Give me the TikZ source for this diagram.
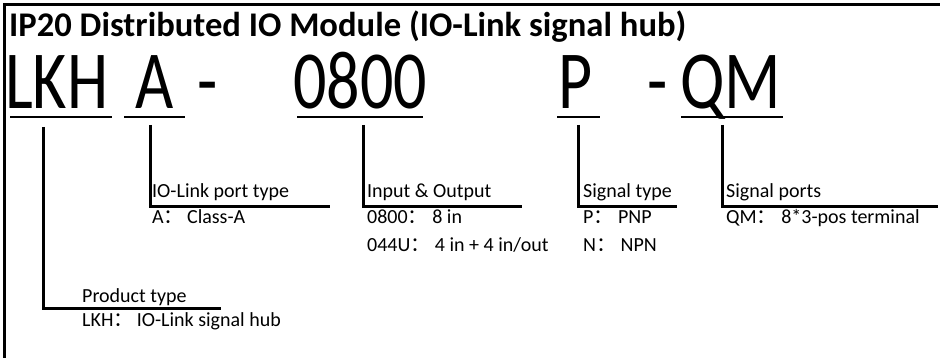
\documentclass[tikz,border=0pt]{standalone}
\usepackage{graphicx}
\usepackage{fontspec}
\setmainfont{Carlito}
\newfontfamily\cjk{Noto Sans CJK SC}
\newcommand{\fwc}{{\cjk ：}}
\newcommand{\tallbox}[1]{\scalebox{1}[1.25]{#1}}
\begin{document}
\begin{tikzpicture}[x=1pt,y=-1pt,
  big/.style={font=\fontsize{66}{66}\selectfont, anchor=base west, inner sep=0pt},
  lbl/.style={font=\fontsize{20}{20}\selectfont, anchor=base west, inner sep=0pt},
  ttl/.style={font=\bfseries\fontsize{34.6}{35}\selectfont, anchor=base west, inner sep=0pt},
  bar/.style={line width=2pt},
  lead/.style={line width=3pt},
  frame/.style={line width=3pt}]
\useasboundingbox (0,0) rectangle (940,358);
% frame
\coordinate (fbl) at (4.5,358);
\coordinate (ftl) at (4.5,5);
\coordinate (ftr) at (940,5);
\draw[frame] (fbl) -- (ftl) -- (ftr);
% title
\node[ttl] (title) at (9,37) {IP20 Distributed IO Module (IO-Link signal hub)};
% big code
\node[big] (lkh) at (5,109) {\tallbox{LKH}};
\node[big] (a) at (135,109) {\tallbox{A}};
\node[big] (d1) at (197,109) {\tallbox{-}};
\node[big] (n0800) at (293,109) {\tallbox{0800}};
\node[big] (p) at (558,109) {\tallbox{P}};
\node[big] (d2) at (647,109) {\tallbox{-}};
\node[big] (qm) at (680,109) {\tallbox{QM}};
% underlines
\coordinate (u1a) at (10,117);  \coordinate (u1b) at (112,117);
\coordinate (u2a) at (124,117); \coordinate (u2b) at (185,117);
\coordinate (u3a) at (297,117); \coordinate (u3b) at (423,117);
\coordinate (u4a) at (557,117); \coordinate (u4b) at (600,117);
\coordinate (u5a) at (681,117); \coordinate (u5b) at (783,117);
\draw[bar] (u1a) -- (u1b);
\draw[bar] (u2a) -- (u2b);
\draw[bar] (u3a) -- (u3b);
\draw[bar] (u4a) -- (u4b);
\draw[bar] (u5a) -- (u5b);
% leaders
\coordinate (l1s) at (43,127);  \coordinate (l1c) at (43,308);  \coordinate (l1e) at (221,308);
\coordinate (l2s) at (150,125); \coordinate (l2c) at (150,207); \coordinate (l2e) at (330,207);
\coordinate (l3s) at (363,125); \coordinate (l3c) at (363,207); \coordinate (l3e) at (522,207);
\coordinate (l4s) at (578,125); \coordinate (l4c) at (578,207); \coordinate (l4e) at (677,207);
\coordinate (l5s) at (722,125); \coordinate (l5c) at (722,207); \coordinate (l5e) at (938,207);
\draw[lead] (l1s) -- (l1c) -- (l1e);
\draw[lead] (l2s) -- (l2c) -- (l2e);
\draw[lead] (l3s) -- (l3c) -- (l3e);
\draw[lead] (l4s) -- (l4c) -- (l4e);
\draw[lead] (l5s) -- (l5c) -- (l5e);
% labels
\node[lbl] (t1) at (82,302) {Product type};
\node[lbl] (v1) at (82,326) {LKH\fwc\,IO-Link signal hub};
\node[lbl] (t2) at (152,198) {IO-Link port type};
\node[lbl] (v2) at (152,224) {A\fwc\,Class-A};
\node[lbl] (t3) at (367,198) {Input \& Output};
\node[lbl] (v3) at (367,224) {0800\fwc\ 8 in};
\node[lbl] (w3) at (367,252) {044U\fwc\ 4 in + 4 in/out};
\node[lbl] (t4) at (583,198) {Signal type};
\node[lbl] (v4) at (583,224) {P\fwc\ PNP};
\node[lbl] (w4) at (583,252) {N\fwc\ NPN};
\node[lbl] (t5) at (726,198) {Signal ports};
\node[lbl] (v5) at (726,224) {QM\fwc\ 8*3-pos terminal};
\end{tikzpicture}
\end{document}
